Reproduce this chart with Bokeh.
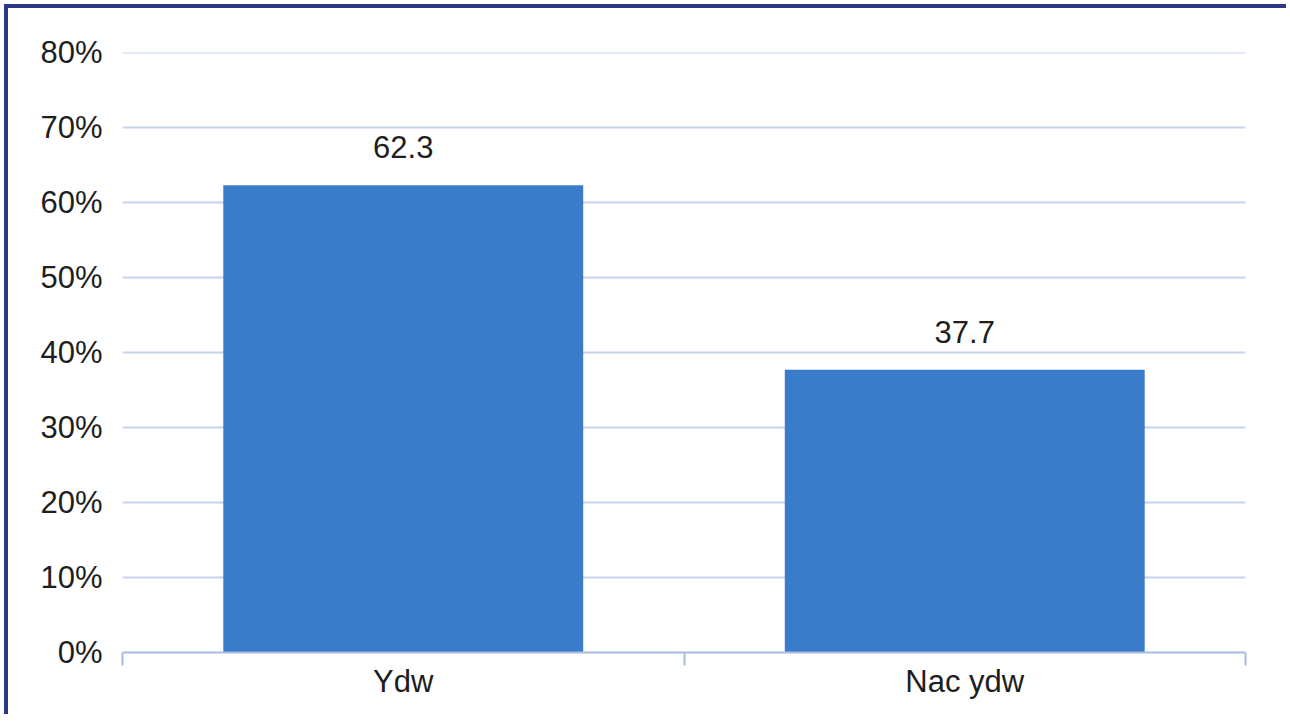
from bokeh.plotting import figure
from bokeh.models import Range1d, FixedTicker, PrintfTickFormatter, ColumnDataSource
from bokeh.core.properties import value
from bokeh.embed import file_html
from bokeh.resources import INLINE

categories = ["Ydw", "Nac ydw"]
values = [62.3, 37.7]
value_labels = ["62.3", "37.7"]
y_ticks = [0, 10, 20, 30, 40, 50, 60, 70, 80]

FONT = "Liberation Sans"
BAR_COLOR = "#3a7cc9"
GRID_COLOR = "#c6d1ec"
AXIS_COLOR = "#a9bbdf"
BORDER_COLOR = "#2b3886"
TEXT_COLOR = "#1e1e1e"

n = len(categories)
xs = [i + 0.5 for i in range(n)]

p = figure(
    width=1282, height=710,
    x_range=Range1d(0, n), y_range=Range1d(0, 80.02),
    output_backend="svg", toolbar_location=None,
    min_border_left=114, min_border_right=45,
    min_border_top=44, min_border_bottom=66,
)
p.styles = {
    "margin-left": "4px", "margin-top": "4px",
    "border-left": f"4px solid {BORDER_COLOR}",
    "border-top": f"4px solid {BORDER_COLOR}",
}
p.outline_line_color = None
p.background_fill_color = "white"
p.border_fill_color = "white"

src = ColumnDataSource(dict(x=xs, top=values, lab=value_labels, cat=categories))
p.vbar(x="x", top="top", width=0.641, source=src, fill_color=BAR_COLOR, line_color=None)
p.text(x="x", y="top", text="lab", source=src, text_font=value(FONT), text_font_size="31px",
       text_color=TEXT_COLOR, text_align="center", text_baseline="middle", y_offset=-38)

# y axis
p.yaxis.ticker = FixedTicker(ticks=y_ticks)
p.yaxis.formatter = PrintfTickFormatter(format="%d%%")
p.yaxis.axis_line_color = None
p.yaxis.major_tick_line_color = None
p.yaxis.minor_tick_line_color = None
p.yaxis.major_tick_out = 0
p.yaxis.major_tick_in = 0
p.yaxis.major_label_standoff = 20
p.yaxis.major_label_text_font = FONT
p.yaxis.major_label_text_font_size = "31px"
p.yaxis.major_label_text_color = TEXT_COLOR

# x axis
p.xaxis.ticker = FixedTicker(ticks=xs, minor_ticks=list(range(n + 1)))
p.xaxis.major_label_overrides = {x: c for x, c in zip(xs, categories)}
p.xaxis.axis_line_color = AXIS_COLOR
p.xaxis.axis_line_width = 2
p.xaxis.major_tick_line_color = None
p.xaxis.major_tick_out = 0
p.xaxis.major_tick_in = 0
p.xaxis.minor_tick_line_color = AXIS_COLOR
p.xaxis.minor_tick_line_width = 2
p.xaxis.minor_tick_out = 13
p.xaxis.minor_tick_in = 0
p.xaxis.major_label_standoff = -2
p.xaxis.major_label_text_font = FONT
p.xaxis.major_label_text_font_size = "31px"
p.xaxis.major_label_text_color = TEXT_COLOR

p.xgrid.grid_line_color = None
p.ygrid.grid_line_color = GRID_COLOR
p.ygrid.grid_line_width = 2

open("out.html", "w").write(file_html(p, INLINE))
